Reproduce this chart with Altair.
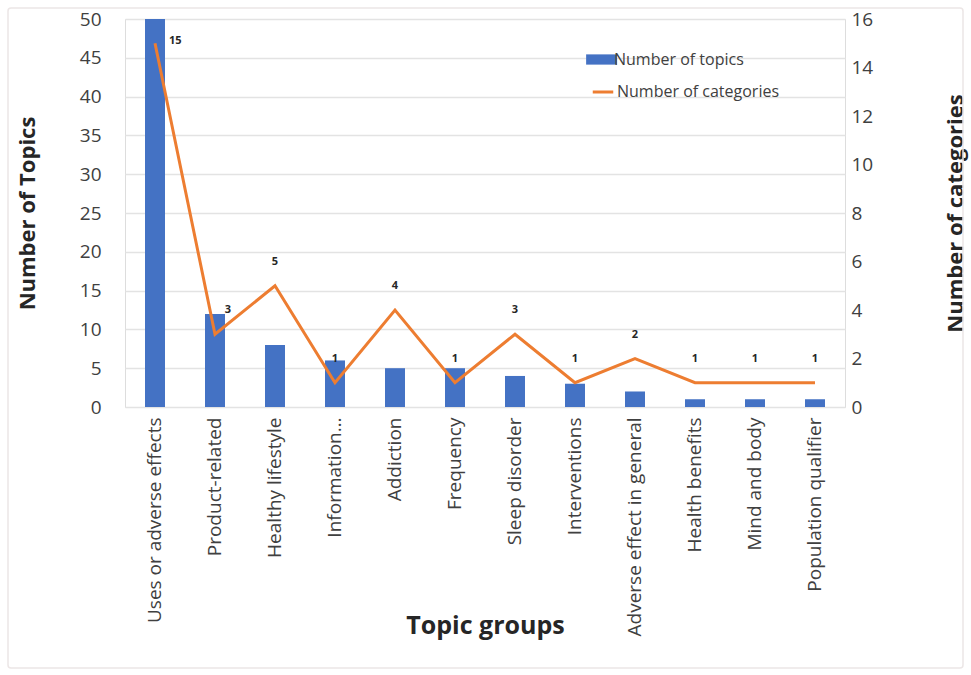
import altair as alt
import pandas as pd

categories = ["Uses or adverse effects", "Product-related", "Healthy lifestyle", "Information…",
              "Addiction", "Frequency", "Sleep disorder", "Interventions",
              "Adverse effect in general", "Health benefits", "Mind and body", "Population qualifier"]
num_topics = [50, 12, 8, 6, 5, 5, 4, 3, 2, 1, 1, 1]
num_categories = [15, 3, 5, 1, 4, 1, 3, 1, 2, 1, 1, 1]

df = pd.DataFrame({
    "group": categories,
    "topics": num_topics,
    "cats": num_categories,
    "s1": ["Number of topics"] * len(categories),
    "s2": ["Number of categories"] * len(categories),
    "idx": list(range(len(categories))),
})

FONT = "Open Sans"
W, H = 720, 388

xenc = alt.X("group:N", sort=categories, scale=alt.Scale(paddingInner=0, paddingOuter=0),
             axis=alt.Axis(title="Topic groups", labelAngle=-90, labelAlign="right", labelBaseline="middle",
                           labelFontSize=19, labelColor="#404040", labelPadding=10, labelLimit=300,
                           ticks=False, domain=False, titleFontSize=25, titleFontWeight="bold",
                           titleColor="#262626", titleY=218, titleBaseline="middle", titleFont=FONT,
                           labelFont=FONT))

base = alt.Chart(df)

bars = base.mark_bar(size=20).encode(
    x=xenc,
    y=alt.Y("topics:Q", scale=alt.Scale(domain=[0, 50]),
            axis=alt.Axis(title="Number of Topics", values=list(range(0, 51, 5)), ticks=False, domain=False,
                          labelFontSize=19, labelColor="#404040", labelPadding=24, titleFontSize=22,
                          titleFontWeight="bold", titleColor="#262626", titleX=-86, titleFont=FONT,
                          labelFont=FONT, gridColor="#e3e3e3", gridWidth=1.5)),
    color=alt.Color("s1:N", scale=alt.Scale(domain=["Number of topics"], range=["#4472C4"]),
                    legend=alt.Legend(title=None, orient="none", legendX=466, legendY=30,
                                      symbolType="M-1.5,-0.5H1.5V0.5H-1.5Z", symbolSize=420,
                                      labelFontSize=16, labelColor="#404040", labelFont=FONT,
                                      labelLimit=400, symbolStrokeWidth=0, labelOffset=2)),
)

right_axis = alt.Axis(title="Number of categories", orient="right", values=list(range(0, 17, 2)),
                      ticks=False, domain=False, grid=False, labelFontSize=19, labelColor="#404040",
                      labelPadding=6, titleFontSize=22, titleFontWeight="bold", titleColor="#262626",
                      titleAngle=270, titleBaseline="middle", titleX=110, titleFont=FONT, labelFont=FONT)


def yright():
    return alt.Y("cats:Q", scale=alt.Scale(domain=[0, 16]), axis=right_axis)


line = base.mark_line(strokeWidth=3).encode(
    x=alt.X("group:N", sort=categories),
    y=yright(),
    stroke=alt.Stroke("s2:N", scale=alt.Scale(domain=["Number of categories"], range=["#ED7D31"]),
                      legend=alt.Legend(title=None, orient="none", legendX=466, legendY=61,
                                        symbolType="stroke", symbolSize=420, symbolStrokeWidth=3,
                                        labelFontSize=16, labelColor="#404040", labelFont=FONT,
                                        labelLimit=400, labelOffset=2)),
)

lab_first = base.mark_text(fontSize=11, fontWeight="bold", color="#262626", dx=14, dy=-2, align="left",
                           font=FONT).encode(
    x=alt.X("group:N", sort=categories),
    y=yright(),
    text="cats:Q",
).transform_filter("datum.idx == 0")

lab_second = base.mark_text(fontSize=11, fontWeight="bold", color="#262626", dx=13, dy=-24,
                            font=FONT).encode(
    x=alt.X("group:N", sort=categories),
    y=yright(),
    text="cats:Q",
).transform_filter("datum.idx == 1")

lab_rest = base.mark_text(fontSize=11, fontWeight="bold", color="#262626", dy=-24, font=FONT).encode(
    x=alt.X("group:N", sort=categories),
    y=yright(),
    text="cats:Q",
).transform_filter("datum.idx >= 2")

frame = alt.Chart(pd.DataFrame({"a": [0]})).mark_rect(fillOpacity=0, stroke="#ece6e6", strokeWidth=1.5,
                                                      cornerRadius=3).encode(
    x=alt.value(-117), x2=alt.value(838), y=alt.value(-11), y2=alt.value(649))

right_layer = alt.layer(line, lab_first, lab_second, lab_rest)

chart = alt.layer(frame, bars, right_layer).resolve_scale(
    y="independent", color="independent", stroke="independent"
).properties(
    width=W, height=H,
    autosize=alt.AutoSizeParams(type="none"),
    padding={"left": 125, "top": 19, "right": 126, "bottom": 268},
).configure_view(stroke=None).configure(background="white")

chart.save("out.html", embed_options={"renderer": "svg", "actions": False})
